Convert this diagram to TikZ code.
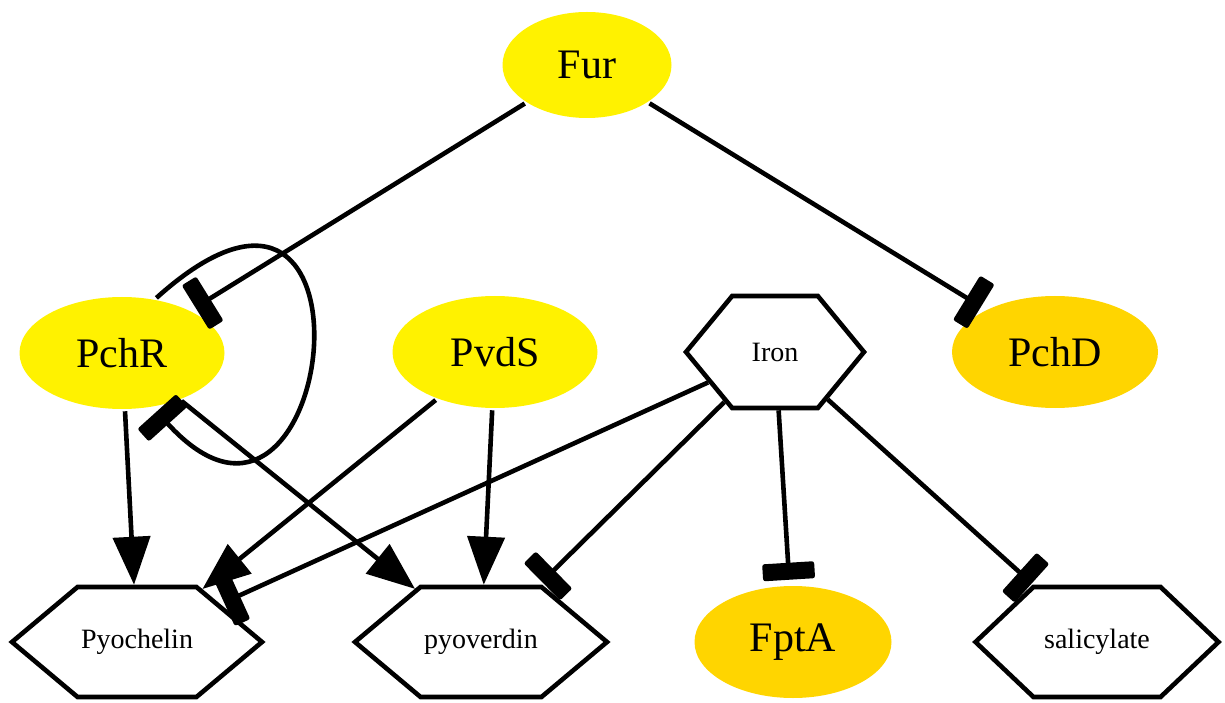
\documentclass[tikz,border=0pt]{standalone}
\usepackage{fontspec}
\setmainfont{Liberation Serif}
\usetikzlibrary{arrows.meta, shapes.geometric, shapes.symbols}
\definecolor{gold}{RGB}{255,213,0}

\begin{document}
\begin{tikzpicture}[x=0.5pt, y=0.5pt, line width=2.3pt,
    gene/.style={ellipse, fill=yellow, inner sep=0pt, minimum width=102.5pt, minimum height=56pt, font=\fontsize{21}{25}\selectfont},
    goldgene/.style={gene, fill=gold},
    hexa/.style={signal, signal to=east and west, draw, inner sep=0pt, minimum height=55pt, font=\fontsize{14}{17}\selectfont},
    act/.style={-{Triangle[length=24pt, width=18.5pt]}},
    inh/.style={-{Rectangle[length=8.5pt, width=26pt, round]}, shorten >=2pt}]
    \useasboundingbox (0,0) rectangle (1225,702);

    \node[gene, minimum width=84.5pt, minimum height=53pt] (Fur) at (587,637) {Fur};
    \node[gene] (PchR) at (122,349) {PchR};
    \node[gene] (PvdS) at (495,350) {PvdS};
    \node[hexa, minimum width=89pt, minimum height=56pt, signal pointer angle=101] (Iron) at (775,350) {Iron};
    \node[goldgene, minimum width=103pt] (PchD) at (1055,350) {PchD};

    \node[hexa, minimum width=125pt, signal pointer angle=80] (Pyochelin) at (137,60) {Pyochelin};
    \node[hexa, minimum width=126pt, signal pointer angle=80] (pyoverdin) at (481,60) {pyoverdin};
    \node[goldgene, minimum width=98.5pt] (FptA) at (793,60) {FptA};
    \node[hexa, minimum width=121.5pt, signal pointer angle=87] (salicylate) at (1097,60) {salicylate};

    \draw[inh] (Fur) -- (PchR);
    \draw[inh] (Fur) -- (PchD);
    \draw[inh] (PchR.58) .. controls +(42:320) and +(-48:270) .. (PchR.-60);
    \draw[act] (PchR) -- (Pyochelin);
    \draw[act] (PchR) -- (pyoverdin);
    \draw[act] (PvdS) -- (Pyochelin);
    \draw[act] (PvdS) -- (pyoverdin);
    \draw[inh] (Iron) -- (Pyochelin);
    \draw[inh] (Iron) -- (pyoverdin);
    \draw[inh] (Iron) -- (FptA);
    \draw[inh] (Iron) -- (salicylate);
\end{tikzpicture}
\end{document}
